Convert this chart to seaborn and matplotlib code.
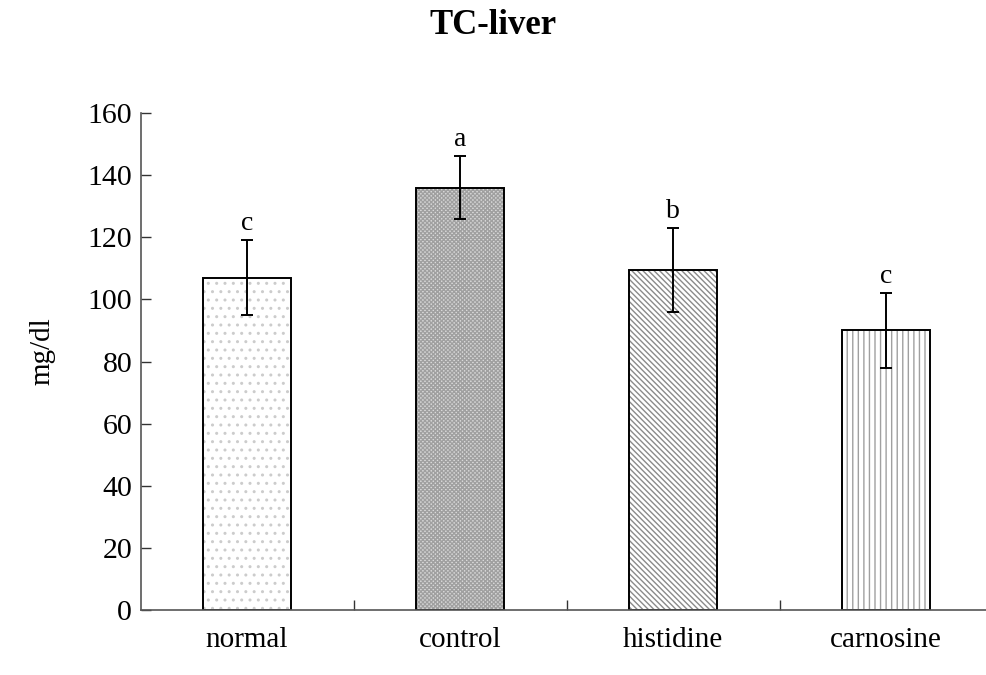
import matplotlib
matplotlib.use("Agg")
import matplotlib.pyplot as plt
from matplotlib.colors import to_rgba
from matplotlib.ticker import FixedLocator
import seaborn as sns

# Liver total cholesterol by diet group
groups = ["normal", "control", "histidine", "carnosine"]
means = [107, 136, 109.5, 90]
errors = [12, 10, 13.5, 12]
letters = ["c", "a", "b", "c"]
yticks = [0, 20, 40, 60, 80, 100, 120, 140, 160]

sns.set_theme(style="white")
plt.rcParams["font.family"] = ["Liberation Serif", "DejaVu Serif"]
plt.rcParams["text.color"] = "black"
plt.rcParams["xtick.color"] = "black"
plt.rcParams["ytick.color"] = "black"
plt.rcParams["hatch.linewidth"] = 1.0

fig = plt.figure(figsize=(9.86, 6.75), dpi=100)
ax = fig.add_axes([140.5 / 986, 65 / 675, 852 / 986, 497 / 675])

sns.barplot(x=groups, y=means, ax=ax, color="white", width=0.41,
            edgecolor="black", linewidth=1.4, errorbar=None)

hatches = ["..", "xxxxxxxx", "\\\\\\\\\\\\", "|||"]
hatch_cols = ["#cccccc", "#a0a0a0", "#8a8a8a", "#a0a0a0"]
faces = ["white", "#d9d9d9", "white", "white"]
for bar, h, hc, fc in zip(ax.patches, hatches, hatch_cols, faces):
    bar.set_hatch(h)
    bar.set_facecolor(fc)
    bar._hatch_color = to_rgba(hc)

ax.errorbar(range(len(groups)), means, yerr=errors, fmt="none",
            ecolor="black", elinewidth=1.4, capsize=4.3, capthick=1.4, zorder=5)

for i, (m, e, s) in enumerate(zip(means, errors, letters)):
    ax.annotate(s, (i, m + e), xytext=(0, 3), textcoords="offset points",
                ha="center", va="bottom", fontsize=20)

ax.set_xlim(-0.5, 3.5)
ax.set_ylim(0, 160)
ax.set_yticks(yticks)
ax.set_yticklabels([str(t) for t in yticks], fontsize=21.5)
ax.tick_params(axis="y", direction="in", length=7, width=1, color="#333333", pad=6, left=True)
ax.tick_params(axis="x", which="major", length=0, pad=12, labelsize=21)
ax.xaxis.set_minor_locator(FixedLocator([0.5, 1.5, 2.5]))
ax.tick_params(axis="x", which="minor", direction="in", length=7, width=1,
               color="#333333", bottom=True)

for side in ["top", "right"]:
    ax.spines[side].set_visible(False)
for side in ["left", "bottom"]:
    ax.spines[side].set_color("#555555")
    ax.spines[side].set_linewidth(1.2)

ax.set_ylabel("")
fig.text(42 / 986, 1 - 351 / 675, "mg/dl", rotation=90, ha="center", va="center", fontsize=21)
fig.text(0.5, 1 - 25 / 675, "TC-liver", ha="center", va="center", fontsize=25, fontweight="bold")

fig.savefig("out.png", dpi=100)
